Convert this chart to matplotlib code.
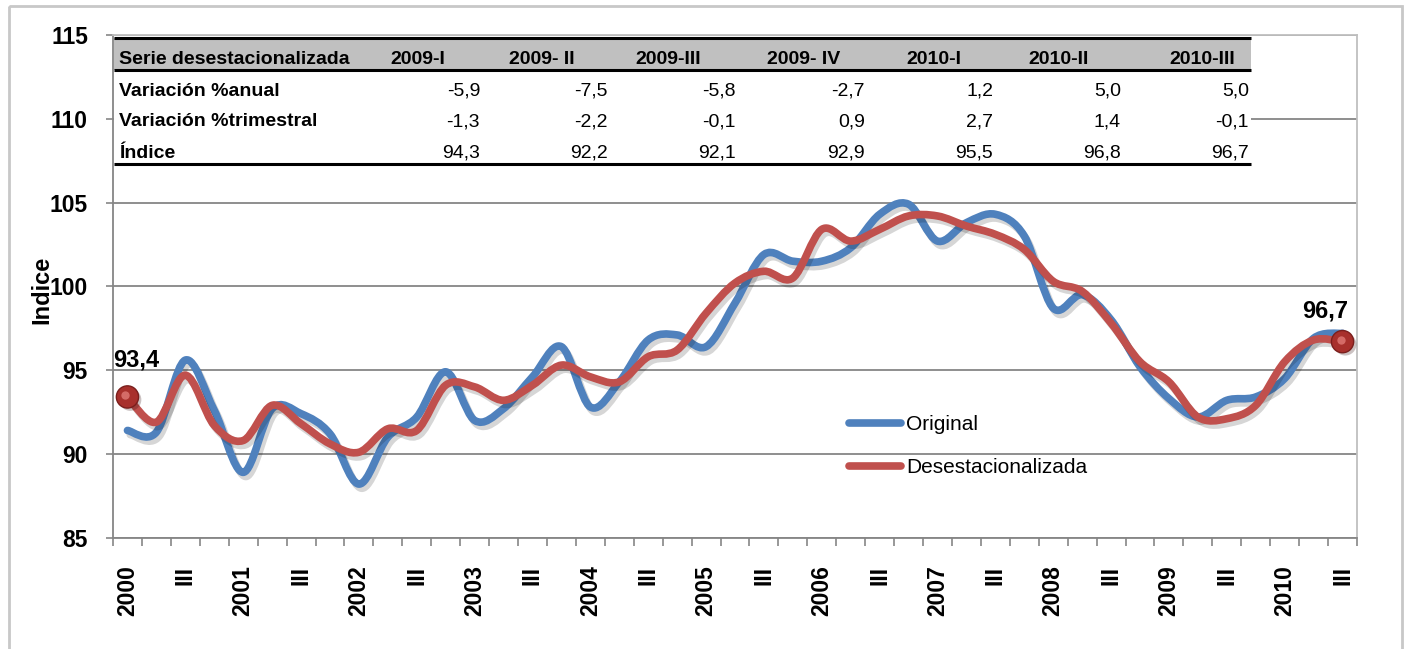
import matplotlib
matplotlib.use("Agg")
import matplotlib.pyplot as plt
import matplotlib.patheffects as pe
import matplotlib.transforms as mtransforms
from matplotlib.path import Path
from matplotlib.patches import PathPatch, Rectangle
from matplotlib.lines import Line2D
from matplotlib import font_manager
import numpy as np

# ---------------- data ----------------
years = ["2000", "2001", "2002", "2003", "2004", "2005",
         "2006", "2007", "2008", "2009", "2010"]

original = [91.4, 91.3, 95.6, 92.6, 88.9, 92.7, 92.4, 91.2, 88.2, 91.0,
            92.2, 94.9, 92.0, 92.7, 94.6, 96.4, 92.8, 94.3, 96.8, 97.1,
            96.4, 99.0, 101.9, 101.5, 101.5, 102.3, 104.3, 104.9, 102.7, 103.8,
            104.3, 103.0, 98.7, 99.5, 98.0, 95.2, 93.3, 92.2, 93.2, 93.4,
            94.5, 96.9, 97.2]

desest = [93.4, 91.9, 94.7, 91.7, 90.8, 92.9, 91.8, 90.6, 90.1, 91.5,
          91.4, 94.1, 94.0, 93.2, 94.1, 95.3, 94.6, 94.3, 95.8, 96.2,
          98.4, 100.2, 100.9, 100.5, 103.4, 102.7, 103.4, 104.2, 104.2, 103.6,
          103.1, 102.2, 100.3, 99.7, 97.8, 95.5, 94.3, 92.2, 92.1, 92.9,
          95.5, 96.8, 96.7]

series_names = ["Original", "Desestacionalizada"]
first_label = "93,4"
last_label = "96,7"

table_header = ["Serie desestacionalizada", "2009-I", "2009- II", "2009-III",
                "2009- IV", "2010-I", "2010-II", "2010-III"]
table_rows = ["Variación %anual", "Variación %trimestral", "Índice"]
var_anual = ["-5,9", "-7,5", "-5,8", "-2,7", "1,2", "5,0", "5,0"]
var_trim = ["-1,3", "-2,2", "-0,1", "0,9", "2,7", "1,4", "-0,1"]
indice = ["94,3", "92,2", "92,1", "92,9", "95,5", "96,8", "96,7"]

yticks = [85, 90, 95, 100, 105, 110, 115]
ylabel = "Indice"

# category labels: year at Q1, "III" at Q3
tick_labels = []
for y in years:
    tick_labels += [y, "", "III", ""]
tick_labels = tick_labels[:len(original)]

# ---------------- styling ----------------
BLUE = "#4F81BD"
RED = "#C0504D"
GRID = "#868686"
LIGHT = "#BFBFBF"

names = {f.name for f in font_manager.fontManager.ttflist}
if "Liberation Sans Narrow" in names:
    TFONT = ["Liberation Sans Narrow", "Liberation Sans", "DejaVu Sans"]
    TSIZE = 16.5
else:
    TFONT = ["Liberation Sans", "DejaVu Sans"]
    TSIZE = 14
FONT = ["Liberation Sans", "DejaVu Sans"]
plt.rcParams["font.family"] = FONT

W, H = 1407, 649
fig = plt.figure(figsize=(W / 100, H / 100), dpi=100)
fig.patch.set_facecolor("white")

x_left, x_right, y_top, y_bot = 113, 1357, 35, 537.7
ax = fig.add_axes([x_left / W, 1 - y_bot / H, (x_right - x_left) / W, (y_bot - y_top) / H])

n = len(original)
xs = np.arange(n)
ax.set_xlim(-0.5, n - 0.5)
ax.set_ylim(85, 115)


def smooth_path(x, y):
    pts = np.column_stack([x, y]).astype(float)
    verts = [pts[0]]
    codes = [Path.MOVETO]
    m = len(pts)
    for i in range(m - 1):
        p0 = pts[i - 1] if i > 0 else pts[i]
        p1 = pts[i]
        p2 = pts[i + 1]
        p3 = pts[i + 2] if i + 2 < m else pts[i + 1]
        c1 = p1 + (p2 - p0) / 6.0
        c2 = p2 - (p3 - p1) / 6.0
        verts += [c1, c2, p2]
        codes += [Path.CURVE4] * 3
    return Path(verts, codes)


shadow = [pe.SimpleLineShadow(offset=(2, -3), shadow_color="black", alpha=0.16),
          pe.Normal()]

for vals, col, z in [(original, BLUE, 3), (desest, RED, 4)]:
    patch = PathPatch(smooth_path(xs, vals), fill=False, edgecolor=col, lw=5.5,
                      capstyle="round", joinstyle="round", zorder=z,
                      path_effects=shadow)
    ax.add_patch(patch)

# end markers
for i in [0, n - 1]:
    ax.plot([xs[i]], [desest[i]], "o", ms=16, mfc="#A8302C", mec="#7A1F1D",
            mew=1.0, zorder=6,
            path_effects=[pe.SimplePatchShadow(offset=(2, -2), alpha=0.25), pe.Normal()])
    hl = mtransforms.offset_copy(ax.transData, fig=fig, x=-2, y=2, units="dots")
    ax.plot([xs[i]], [desest[i]], "o", ms=6, mfc="#E07a76", mec="none",
            alpha=0.8, zorder=7, transform=hl)

ax.annotate(first_label, xy=(xs[0], desest[0]), xytext=(9, 37),
            textcoords="offset pixels", ha="center", va="center",
            fontsize=17, fontweight="bold", zorder=8)
ax.annotate(last_label, xy=(xs[-1], desest[-1]), xytext=(-17, 31),
            textcoords="offset pixels", ha="center", va="center",
            fontsize=17, fontweight="bold", zorder=8)

# grid / axes
ax.set_yticks(yticks)
ax.set_yticklabels([str(v) for v in yticks], fontsize=16.5, fontweight="bold")
ax.yaxis.grid(True, color=GRID, lw=1.3, zorder=0)
ax.set_axisbelow(True)
ax.tick_params(axis="y", direction="out", length=5, width=1.2, color=GRID, pad=13)

ax.set_xticks(xs)
ax.set_xticklabels(tick_labels, rotation=90, fontsize=16.5, fontweight="bold")
ax.set_xticks(np.arange(n + 1) - 0.5, minor=True)
ax.tick_params(axis="x", which="major", length=0, pad=20)
ax.tick_params(axis="x", which="minor", direction="out", length=5.5, width=1.2, color=GRID)

for s in ["left", "bottom"]:
    ax.spines[s].set_color(GRID)
    ax.spines[s].set_linewidth(1.3)
for s in ["top", "right"]:
    ax.spines[s].set_color(LIGHT)
    ax.spines[s].set_linewidth(1.3)

fig.text(42 / W, 1 - 290 / H, ylabel, rotation=90, ha="center", va="center",
         fontsize=17, fontweight="bold")

# legend
handles = [Line2D([], [], color=BLUE, lw=5.5, solid_capstyle="round"),
           Line2D([], [], color=RED, lw=5.5, solid_capstyle="round")]
leg = ax.legend(handles, series_names, loc="upper left",
                bbox_to_anchor=(849 / W, 1 - 415 / H), bbox_transform=fig.transFigure,
                frameon=False, fontsize=15, handlelength=2.5, handletextpad=0.25,
                labelspacing=1.15, borderpad=0, borderaxespad=0)

# ---------------- overlay: table + chart border ----------------
ov = fig.add_axes([0, 0, 1, 1], zorder=10)
ov.set_xlim(0, W)
ov.set_ylim(H, 0)
ov.axis("off")

ov.add_patch(Rectangle((8.5, 5.5), W - 14, H, fill=False, edgecolor="#C8C8C8", lw=2))

tx0, tx1, ty0, ty_h, ty1 = 114, 1251, 38, 70, 164
ov.add_patch(Rectangle((tx0, ty0), tx1 - tx0, ty1 - ty0, facecolor="white", edgecolor="none"))
ov.add_patch(Rectangle((tx0, ty0), tx1 - tx0, ty_h - ty0, facecolor="#C0C0C0", edgecolor="none"))
for yy in [ty0, ty_h, ty1]:
    ov.plot([tx0, tx1], [yy, yy], color="black", lw=2.2, solid_capstyle="butt")

header_left = [390, 509, 635, 767, 906, 1028, 1169]
value_right = [480, 608, 736, 865, 993, 1121, 1249]
base_y = [63.5, 96, 126.5, 158]

ov.text(119, base_y[0], table_header[0], family=TFONT, fontsize=TSIZE,
        fontweight="bold", va="baseline", ha="left")
for j, h in enumerate(table_header[1:]):
    ov.text(header_left[j], base_y[0], h, family=TFONT, fontsize=TSIZE,
            fontweight="bold", va="baseline", ha="left")
for r, (lab, vals) in enumerate(zip(table_rows, [var_anual, var_trim, indice])):
    ov.text(119, base_y[r + 1], lab, family=TFONT, fontsize=TSIZE,
            fontweight="bold", va="baseline", ha="left")
    for j, v in enumerate(vals):
        ov.text(value_right[j], base_y[r + 1], v, family=TFONT, fontsize=TSIZE,
                va="baseline", ha="right")

fig.savefig("out.png", dpi=100, facecolor="white")
